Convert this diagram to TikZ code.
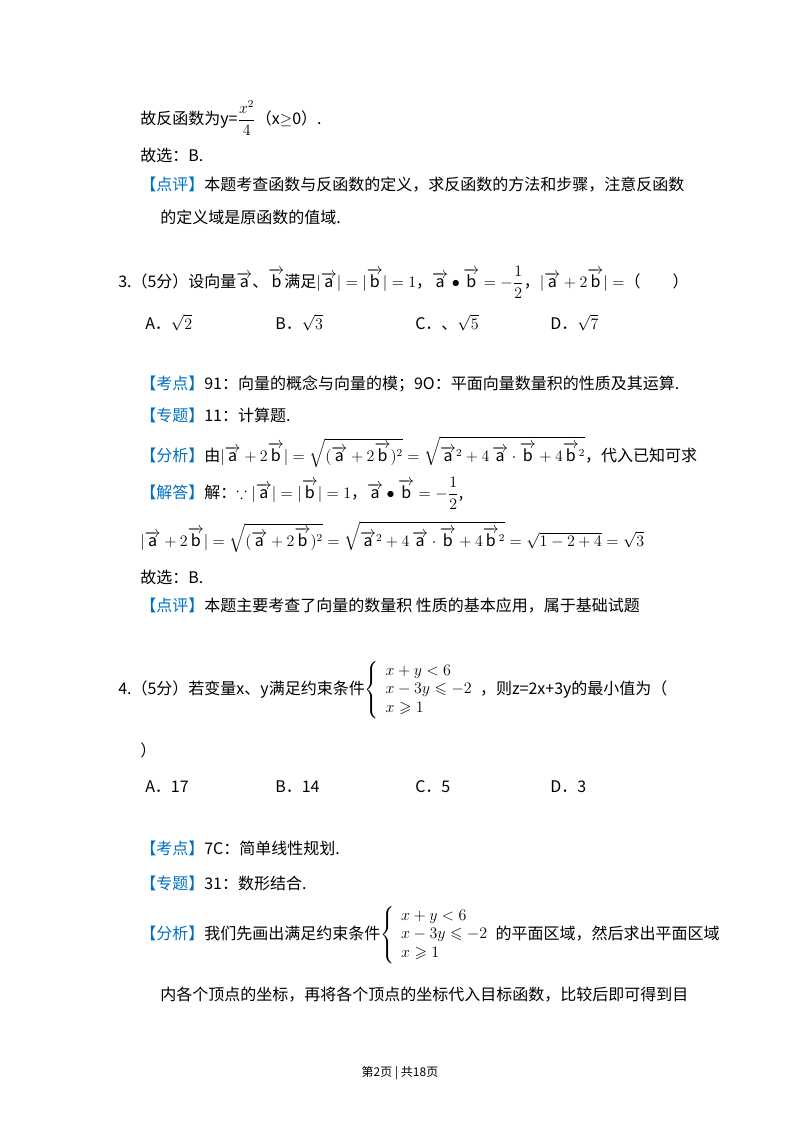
\documentclass[tikz,border=0pt]{standalone}
\usepackage{amsmath,amssymb}
\usepackage{fontspec}
\setmainfont{Noto Sans CJK SC}
\usepackage{tikz}
\definecolor{tagblue}{RGB}{0,112,192}
\newcommand{\tagbox}[1]{\textcolor{tagblue}{【#1】}}
\newcommand{\va}{\overrightarrow{\mathrm{a}}}
\newcommand{\vb}{\overrightarrow{\mathrm{b}}}
\begin{document}
\begin{tikzpicture}[
  x=0.75pt, y=-0.75pt,
  txt_line/.style={anchor=west, inner sep=0pt, font=\fontsize{12pt}{14pt}\selectfont},
  foot_line/.style={anchor=center, inner sep=0pt, font=\fontsize{9pt}{11pt}\selectfont},
]
\useasboundingbox (0,0) rectangle (800,1132);
\draw (140,118) node (L1) [txt_line] {故反函数为y=$\dfrac{x^2}{4}$（x$\geq$0）.};
\draw (140,155) node (L2) [txt_line] {故选：B.};
\draw (140,185) node (L3) [txt_line] {\tagbox{点评}本题考查函数与反函数的定义，求反函数的方法和步骤，注意反函数};
\draw (160,217) node (L4) [txt_line] {的定义域是原函数的值域.};
\draw (118,282) node (Q3) [txt_line] {3.（5分）设向量$\va$、$\vb$满足$|\va|=|\vb|=1$，$\va\bullet\vb=-\dfrac{1}{2}$，$|\va+2\vb|=$（\qquad）};
\draw (145,323) node (Q3A) [txt_line] {A．$\sqrt{2}$};
\draw (275,323) node (Q3B) [txt_line] {B．$\sqrt{3}$};
\draw (415,323) node (Q3C) [txt_line] {C．、$\sqrt{5}$};
\draw (550,323) node (Q3D) [txt_line] {D．$\sqrt{7}$};
\draw (140,384) node (K3) [txt_line] {\tagbox{考点}91：向量的概念与向量的模；9O：平面向量数量积的性质及其运算.};
\draw (140,415) node (Z3) [txt_line] {\tagbox{专题}11：计算题.};
\draw (140,452) node (F3) [txt_line] {\tagbox{分析}由$|\va+2\vb|=\sqrt{(\va+2\vb)^2}=\sqrt{\va^2+4\,\va\cdot\vb+4\vb^2}$，代入已知可求};
\draw (140,493) node (J3) [txt_line] {\tagbox{解答}解：$\because|\va|=|\vb|=1$，$\va\bullet\vb=-\dfrac{1}{2}$,};
\draw (140,537) node (J3b) [txt_line] {$|\va+2\vb|=\sqrt{(\va+2\vb)^2}=\sqrt{\va^2+4\,\va\cdot\vb+4\vb^2}=\sqrt{1-2+4}=\sqrt{3}$};
\draw (140,577) node (S3) [txt_line] {故选：B.};
\draw (140,606) node (P3) [txt_line] {\tagbox{点评}本题主要考查了向量的数量积 性质的基本应用，属于基础试题};
\draw (118,690) node (Q4) [txt_line] {4.（5分）若变量x、y满足约束条件$\left\{\begin{array}{l}x+y<6\\ x-3y\leqslant-2\\ x\geqslant1\end{array}\right.$，则z=2x+3y的最小值为（};
\draw (140,750) node (Q4e) [txt_line] {）};
\draw (145,787) node (Q4A) [txt_line] {A．17};
\draw (275,787) node (Q4B) [txt_line] {B．14};
\draw (415,787) node (Q4C) [txt_line] {C．5};
\draw (550,787) node (Q4D) [txt_line] {D．3};
\draw (140,848) node (K4) [txt_line] {\tagbox{考点}7C：简单线性规划.};
\draw (140,883) node (Z4) [txt_line] {\tagbox{专题}31：数形结合.};
\draw (140,935) node (F4) [txt_line] {\tagbox{分析}我们先画出满足约束条件$\left\{\begin{array}{l}x+y<6\\ x-3y\leqslant-2\\ x\geqslant1\end{array}\right.$的平面区域，然后求出平面区域};
\draw (160,995) node (F4b) [txt_line] {内各个顶点的坐标，再将各个顶点的坐标代入目标函数，比较后即可得到目};
\draw (400,1073) node (foot) [foot_line] {第2页 | 共18页};
\end{tikzpicture}
\end{document}
